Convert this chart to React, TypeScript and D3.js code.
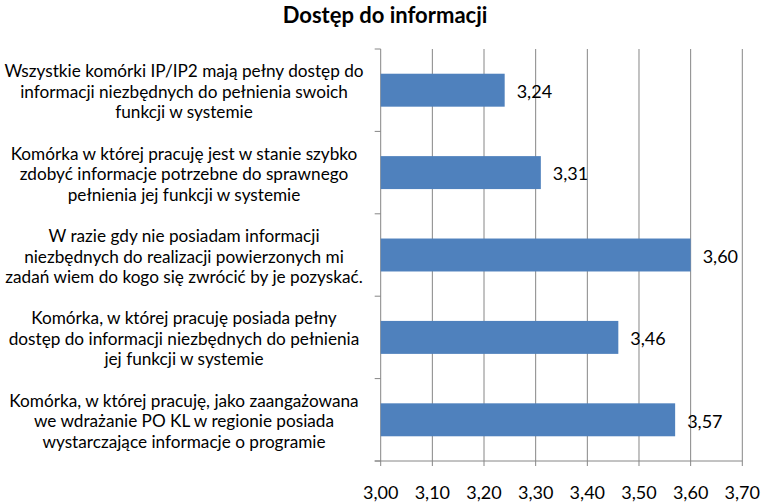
import React from "react";
import * as d3 from "d3";

const categories: string[][] = [
  ["Wszystkie komórki IP/IP2 mają pełny dostęp do", "informacji niezbędnych do pełnienia swoich", "funkcji w systemie"],
  ["Komórka w której pracuję jest w stanie  szybko", "zdobyć informacje potrzebne do sprawnego", "pełnienia jej funkcji w systemie"],
  ["W razie gdy nie posiadam informacji", "niezbędnych do realizacji powierzonych mi", "zadań wiem do kogo się zwrócić by je pozyskać."],
  ["Komórka, w której pracuję posiada pełny", "dostęp do informacji niezbędnych do pełnienia", "jej funkcji w systemie"],
  ["Komórka, w której pracuję, jako zaangażowana", "we wdrażanie PO KL w regionie posiada", "wystarczające informacje o programie"],
];
const values: number[] = [3.24, 3.31, 3.6, 3.46, 3.57];
const ticks: number[] = [3.0, 3.1, 3.2, 3.3, 3.4, 3.5, 3.6, 3.7];
const title = "Dostęp do informacji";

const W = 764, H = 502;
const left = 380.7, right = 742.3, top = 49, bottom = 461;
const font = "Lato, 'Open Sans', sans-serif";
const fmt = (v: number) => v.toFixed(2).replace(".", ",");

export default function App() {
  const x = d3.scaleLinear().domain([3.0, 3.7]).range([left, right]);
  const ids = categories.map((_, i) => String(i));
  const y = d3.scaleBand<string>().domain(ids).range([top, bottom]).paddingInner(0.6).paddingOuter(0.3);
  const band = (bottom - top) / categories.length;
  const grid = "#868686";
  return (
    <svg width={W} height={H} style={{ position: "absolute", left: 0, top: 0, display: "block" }}>
      <rect width={W} height={H} fill="#fff" />
      <text x={385} y={23} textAnchor="middle" fontFamily={font} fontWeight="bold" fontSize={22}>{title}</text>
      {ticks.slice(1).map((t) => (
        <line key={t} x1={x(t)} x2={x(t)} y1={top} y2={bottom + 5} stroke={grid} strokeWidth={1} />
      ))}
      <line x1={x(3.0)} x2={x(3.0)} y1={top} y2={bottom + 5} stroke={grid} />
      <line x1={x(3.0) - 6} x2={right} y1={bottom} y2={bottom} stroke={grid} />
      {d3.range(categories.length + 1).map((i) => (
        <line key={i} x1={x(3.0) - 6} x2={x(3.0)} y1={top + band * i} y2={top + band * i} stroke={grid} />
      ))}
      {values.map((v, i) => (
        <g key={i}>
          <rect x={x(3.0)} y={y(String(i))} width={x(v) - x(3.0)} height={y.bandwidth()} fill="#4F81BD" />
          <text x={x(v) + 12} y={(y(String(i)) as number) + y.bandwidth() / 2 + 1.5} dy="0.35em" fontFamily={font} fontSize={18}>{fmt(v)}</text>
        </g>
      ))}
      {categories.map((lines, i) => {
        const cy = (y(String(i)) as number) + y.bandwidth() / 2 + 1.5;
        return (
          <text key={i} textAnchor="middle" fontFamily={font} fontSize={17.2}>
            {lines.map((l, j) => (
              <tspan key={j} x={184} y={cy + (j - 1) * 20.5} dy="0.35em">{l}</tspan>
            ))}
          </text>
        );
      })}
      {ticks.map((t) => (
        <text key={t} x={x(t)} y={493} textAnchor="middle" dy="0.35em" fontFamily={font} fontSize={18}>{fmt(t)}</text>
      ))}
    </svg>
  );
}
